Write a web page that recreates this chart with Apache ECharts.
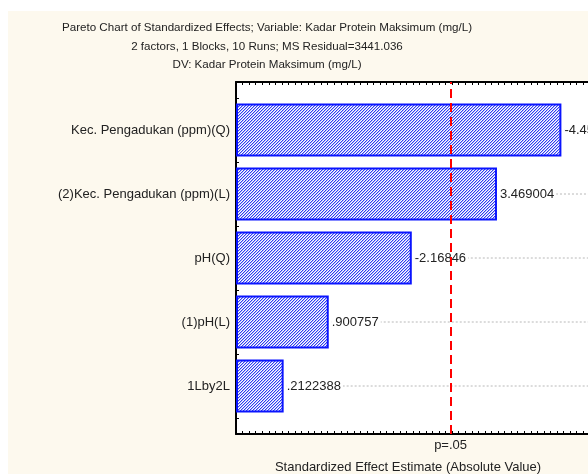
<!DOCTYPE html>
<html>
<head>
<meta charset="utf-8">
<script src="https://cdn.jsdelivr.net/npm/echarts@6/dist/echarts.min.js"></script>
<style>
  html, body { margin: 0; padding: 0; background: #fff; }
  #chart { width: 588px; height: 474px; }
</style>
</head>
<body>
<div id="chart"></div>
<script>
// pareto order, top to bottom
var effectNames = ["Kec. Pengadukan (ppm)(Q)", "(2)Kec. Pengadukan (ppm)(L)", "pH(Q)", "(1)pH(L)", "1Lby2L"];
var effectValues = [-4.45263, 3.469004, -2.16846, 0.900757, 0.2122388];
var pCritical = 2.776;
var pLabel = "p=.05";
var titleLines = [
  "Pareto Chart of Standardized Effects; Variable: Kadar Protein Maksimum (mg/L)",
  "2 factors, 1 Blocks, 10 Runs; MS Residual=3441.036",
  "DV: Kadar Protein Maksimum (mg/L)"
];
var xTitle = "Standardized Effect Estimate (Absolute Value)";

var FONT = '"Liberation Sans", Arial, sans-serif';
var FS = 13;       // labels
var FS_TITLE = 11.6;
var xMin = -0.5, xMax = 5.5;
var yMin = -0.75, yMax = 4.75;

// statistica style: no leading zero
function fmt(v) {
  return String(v).replace(/^(-?)0\./, "$1.");
}

// diagonal hatch for the bars
function makeHatch() {
  var c = document.createElement("canvas");
  c.width = 3; c.height = 3;
  var ctx = c.getContext("2d");
  ctx.fillStyle = "#ffffff";
  ctx.fillRect(0, 0, 3, 3);
  for (var y = 0; y < 3; y++) {
    ctx.fillStyle = "#2e3cf2";
    ctx.fillRect((2 - y + 3) % 3, y, 1, 1);
    ctx.fillStyle = "#b4baf9";
    ctx.fillRect((3 - y + 3) % 3, y, 1, 1);
  }
  return c;
}
var hatch = { image: makeHatch(), repeat: "repeat" };

var barData = effectValues.map(function (v, i) {
  return [Math.abs(v), i];
});

var chart = echarts.init(document.getElementById("chart"), null, { renderer: "canvas" });

var axisCommon = {
  type: "value",
  min: xMin,
  max: xMax,
  interval: 0.1,
  axisLine: { show: true, onZero: false, lineStyle: { color: "#000", width: 2 } },
  axisTick: { show: true, inside: true, length: 3, lineStyle: { color: "#000", width: 1 } },
  axisLabel: { show: false },
  splitLine: { show: false }
};

var titleGraphics = titleLines.map(function (t, i) {
  return {
    type: "text",
    x: 267,
    y: [28, 47, 65][i],
    style: { text: t, fill: "#222", font: FS_TITLE + "px " + FONT, align: "center", verticalAlign: "middle" }
  };
});

chart.setOption({
  backgroundColor: "#fdf9ee",
  animation: false,
  graphic: [
    { type: "rect", shape: { x: 0, y: 0, width: 588, height: 11 }, style: { fill: "#fff" } },
    { type: "rect", shape: { x: 0, y: 0, width: 8, height: 474 }, style: { fill: "#fff" } },
    {
      type: "text",
      x: 408,
      y: 467,
      style: { text: xTitle, fill: "#222", font: FS + "px " + FONT, align: "center", verticalAlign: "middle" }
    }
  ].concat(titleGraphics),
  grid: {
    left: 236,
    top: 82,
    right: -41,
    bottom: 40,
    outerBoundsMode: "none",
    show: true,
    backgroundColor: "#fff",
    borderWidth: 0
  },
  xAxis: [
    Object.assign({ position: "bottom" }, axisCommon),
    Object.assign({ position: "top" }, axisCommon)
  ],
  yAxis: {
    type: "value",
    inverse: true,
    min: yMin,
    max: yMax,
    interval: 0.25,
    axisLine: { show: true, onZero: false, lineStyle: { color: "#000", width: 2 } },
    axisTick: { show: true, inside: true, length: 3, lineStyle: { color: "#000", width: 1 } },
    splitLine: { show: false },
    axisLabel: {
      margin: 6,
      color: "#222",
      fontFamily: FONT,
      fontSize: FS,
      formatter: function (v) {
        var i = Math.round(v);
        return Math.abs(v - i) < 1e-6 && effectNames[i] ? effectNames[i] : "";
      }
    }
  },
  series: [
    {
      type: "custom",
      xAxisIndex: 0,
      data: barData,
      encode: { x: 0, y: 1 },
      renderItem: function (params, api) {
        var row = api.value(1);
        var end = api.coord([api.value(0), row]);
        var cs = params.coordSys;
        var h = api.size([0, 1])[1] * 0.8;
        return {
          type: "group",
          children: [
            {
              type: "line",
              shape: { x1: end[0] + 4, y1: end[1], x2: cs.x + cs.width, y2: end[1] },
              style: { stroke: "#b8b8b8", lineWidth: 1, lineDash: [2, 2] }
            },
            {
              type: "rect",
              shape: { x: cs.x + 1, y: end[1] - h / 2, width: end[0] - cs.x - 1, height: h },
              style: { fill: hatch, stroke: "#0a14ff", lineWidth: 2 }
            },
            {
              type: "text",
              x: end[0] + 4,
              y: end[1],
              style: {
                text: fmt(effectValues[params.dataIndex]),
                fill: "#222",
                font: FS + "px " + FONT,
                align: "left",
                verticalAlign: "middle",
                backgroundColor: "#fff",
                padding: [1, 2, 1, 0]
              }
            }
          ]
        };
      },
      markLine: {
        silent: true,
        symbol: ["none", "none"],
        lineStyle: { color: "#ff0000", width: 2, type: [9, 5] },
        label: {
          show: true,
          position: "start",
          formatter: pLabel,
          color: "#222",
          fontFamily: FONT,
          fontSize: FS,
          distance: 5
        },
        data: [[
          { coord: [pCritical, yMax] },
          { coord: [pCritical, yMin] }
        ]]
      }
    }
  ]
});
</script>
</body>
</html>
